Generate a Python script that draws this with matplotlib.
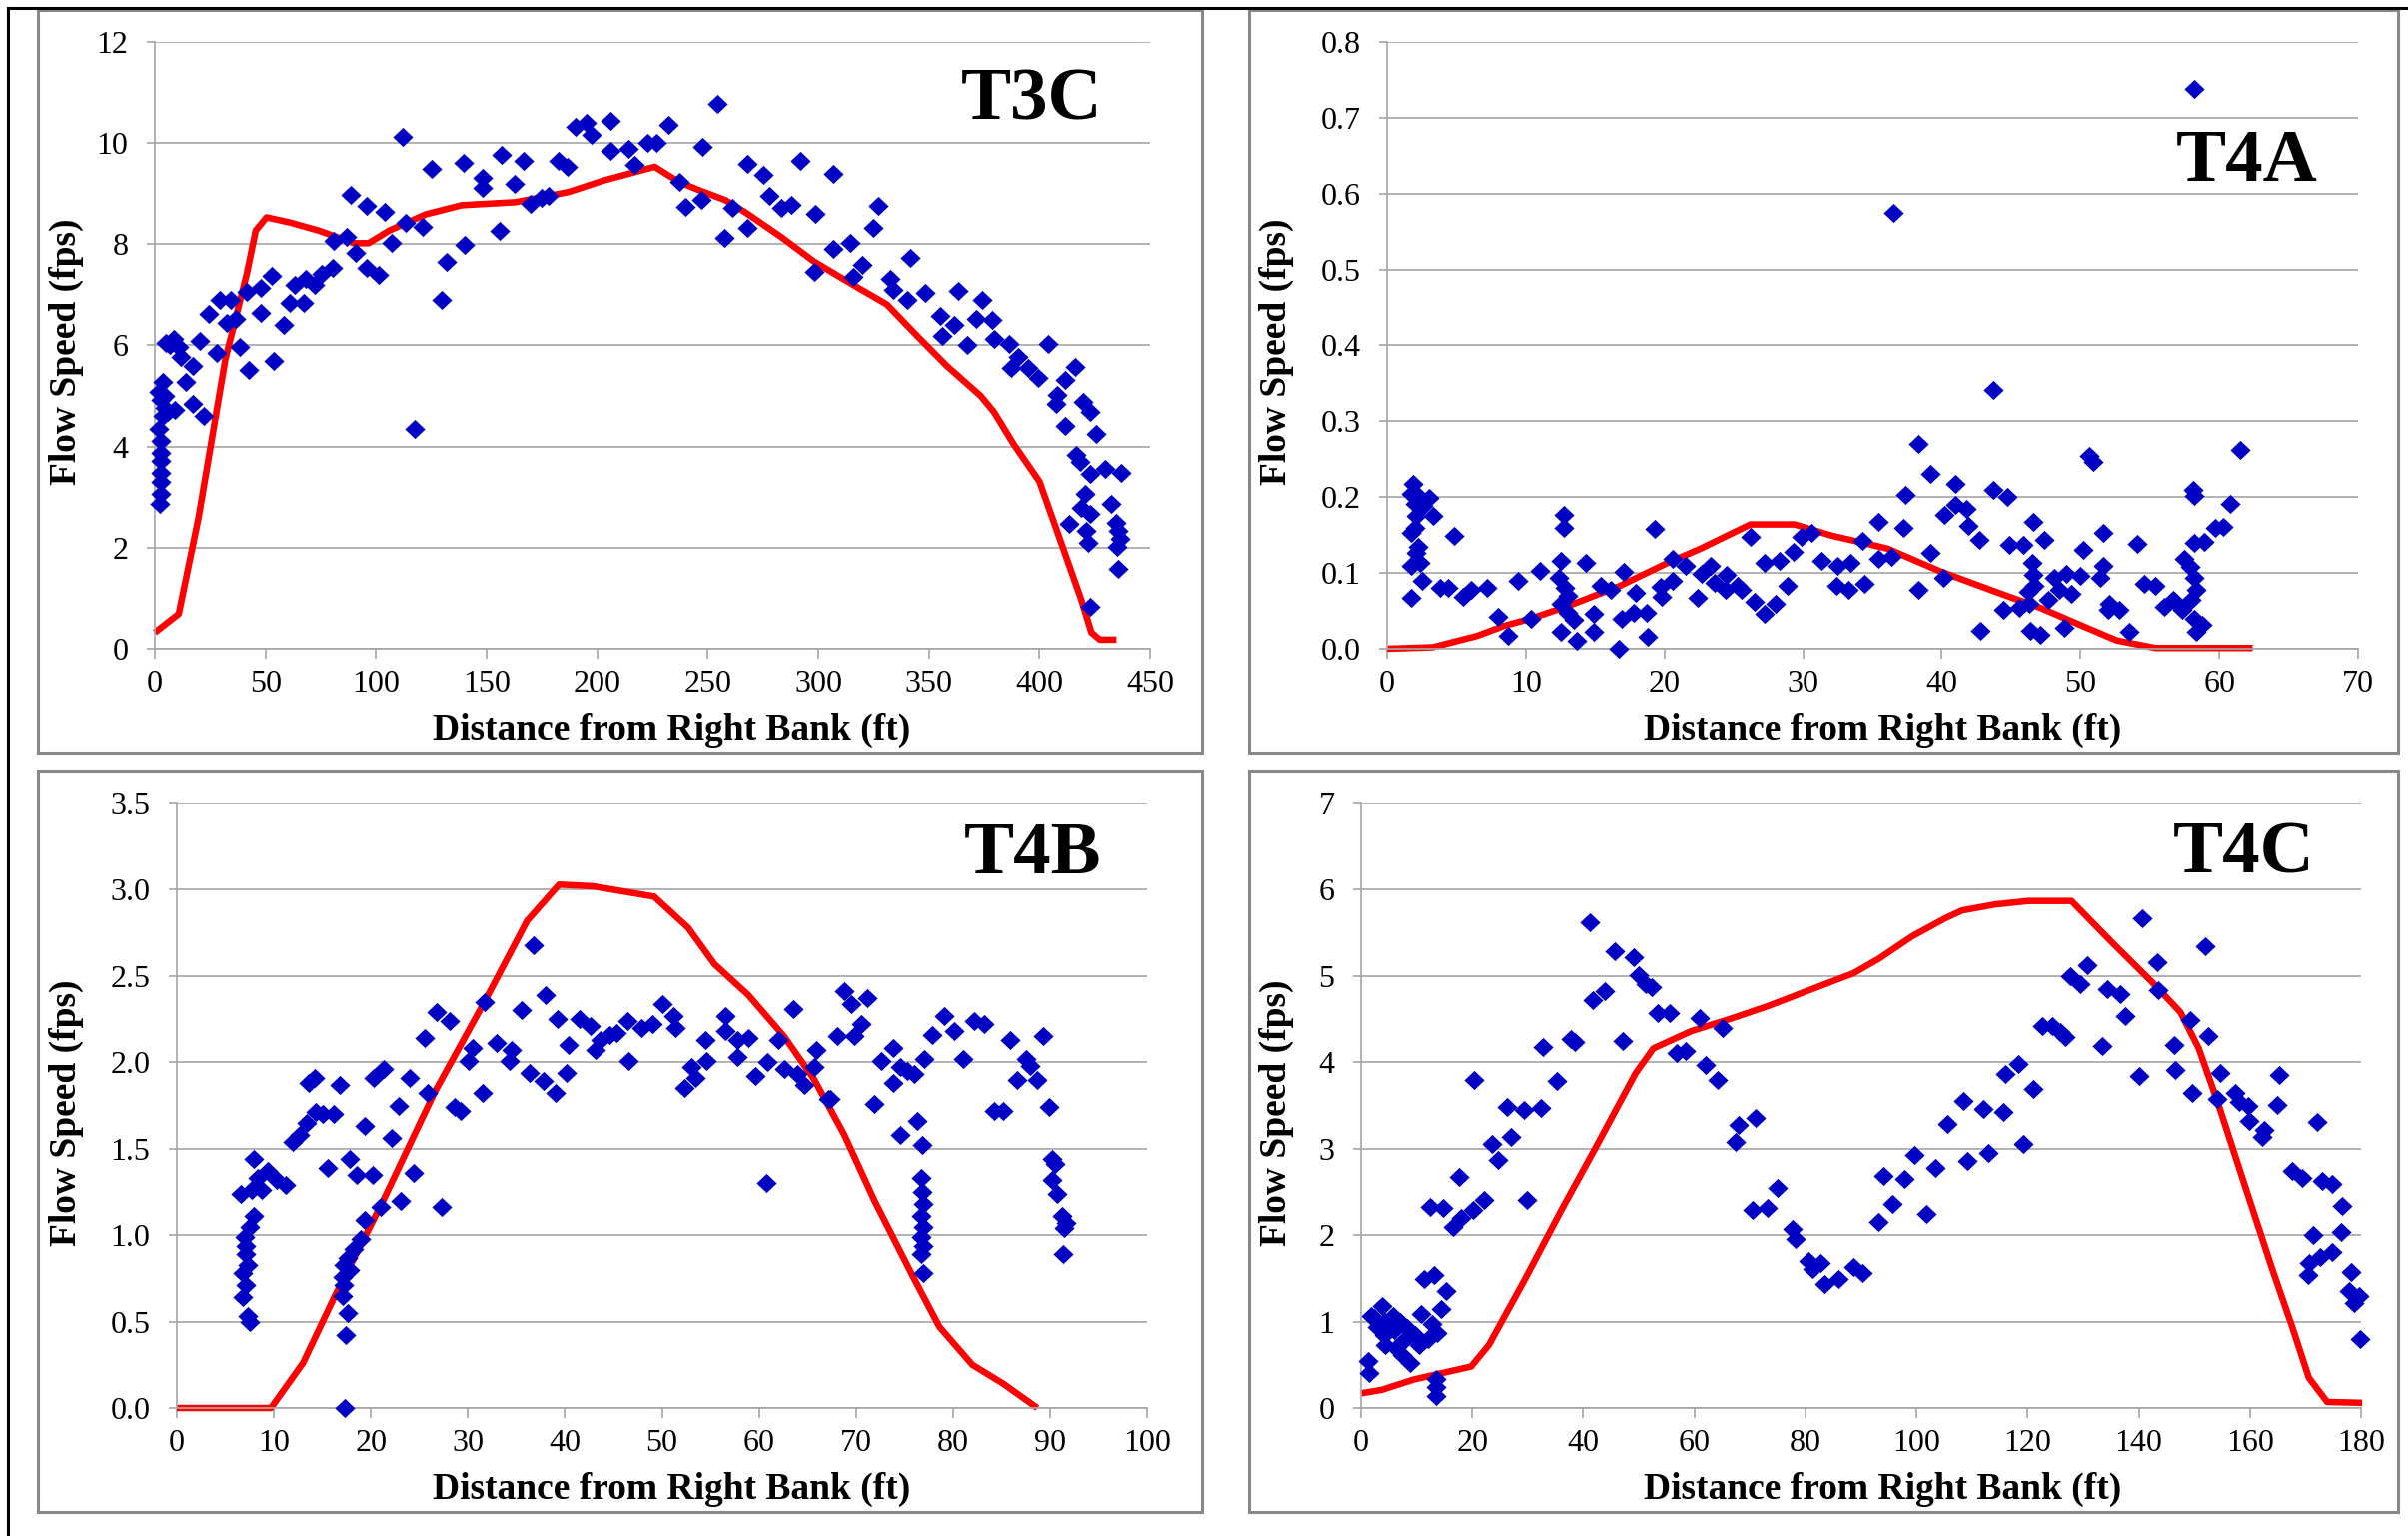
import numpy as np
import matplotlib
matplotlib.use('Agg')
import matplotlib.pyplot as plt
from matplotlib.patches import Rectangle
from matplotlib.lines import Line2D

# measured points (distance ft, speed fps) and the red model line of each transect
t3c_points = [
    (112, 10.12), (117.3, 4.35), (88.5, 8.97), (96, 8.75), (104, 8.63), (113.6, 8.43), (120.9, 8.35),
    (107, 8.02), (81, 8.06), (86.6, 8.15), (91, 7.82), (96, 7.54), (101, 7.4), (80.4, 7.54), (75.6, 7.42),
    (72.3, 7.2), (68.3, 7.32), (63.4, 7.19), (61, 6.85), (67.5, 6.85), (53, 7.38), (48, 7.14), (41.6, 7.06),
    (48, 6.65), (58.3, 6.41), (53.7, 5.7), (42.6, 5.52), (38.3, 5.98), (36.7, 6.53), (32.7, 6.44),
    (29.4, 6.9), (34.3, 6.9), (24.6, 6.63), (20.5, 6.09), (27.8, 5.85), (17, 5.6), (14, 5.28), (5, 6.05),
    (8.4, 6.13), (10.8, 5.97), (11.6, 5.77), (7, 6.0), (3.5, 5.28), (2, 5.08), (2.7, 4.92), (4.4, 4.76),
    (6, 4.68), (9.2, 4.72), (17.3, 4.84), (22.2, 4.6), (2, 4.35), (2.7, 4.11), (2.7, 3.87), (2.7, 3.71),
    (2.7, 3.47), (2.7, 3.31), (2.7, 3.06), (2.4, 2.86), (4.4, 5.0), (3.5, 4.6), (125, 9.48), (139.5, 9.6),
    (148.4, 9.31), (148, 9.11), (157, 9.76), (166.5, 9.64), (162.6, 9.19), (155.7, 8.27), (140, 7.98),
    (131.9, 7.65), (129.8, 6.9), (170, 8.79), (174.8, 8.91), (178, 8.95), (182.4, 9.64), (186.4, 9.52),
    (190, 10.32), (195, 10.4), (197.5, 10.16), (205.8, 10.44), (205.8, 9.85), (214, 9.88), (217, 9.56),
    (222.8, 10.0), (226.9, 10.0), (232.2, 10.36), (237.4, 9.23), (240, 8.73),
    (254.5, 10.78), (247.4, 9.92), (247, 8.87), (268, 9.58), (275, 9.37), (291.7, 9.64), (307, 9.4),
    (277.7, 8.95), (283.3, 8.71), (287.9, 8.77), (261, 8.71), (257.6, 8.13), (267.9, 8.32), (298.5, 8.6),
    (327.3, 8.75), (324.7, 8.32), (306.8, 7.9), (314.4, 8.02), (320, 7.6), (315.9, 7.35), (298, 7.46),
    (341.7, 7.72), (332.6, 7.32), (334, 7.1), (340, 6.9), (348.5, 7.03), (363.3, 7.07), (373.9, 6.9),
    (355.3, 6.59), (361.4, 6.41), (371.2, 6.53), (378.8, 6.51), (355.8, 6.19), (367.4, 6.0), (379.5, 6.13),
    (386.4, 6.02), (403.8, 6.02), (390.2, 5.77), (387.1, 5.56), (394.7, 5.56), (399.2, 5.36), (416.2, 5.58),
    (411.8, 5.32), (408, 5.02), (407.6, 4.84), (419.7, 4.88), (422.7, 4.69), (411.4, 4.4), (425.5, 4.25),
    (416.7, 3.83), (418.2, 3.69), (413.6, 2.48), (422.7, 3.45), (420.5, 3.06), (419, 2.78), (422.7, 2.66),
    (421.2, 2.34), (422, 2.1), (429.5, 3.55), (436.8, 3.47), (432.6, 2.86), (434.5, 2.5), (435.5, 2.34),
    (436.5, 2.18), (435, 2.02), (435.6, 1.59), (423, 0.83),
]
t3c_line_x = [0, 10.8, 19.7, 31.9, 41.6, 45.6, 50.5, 61, 74, 90, 96.6, 106, 122.5, 138.7, 163, 187, 203,
              226, 237, 246, 258, 267, 283, 298, 316, 331, 346, 358, 373.5, 379.5, 388.6, 400, 409.8,
              418.9, 423.5, 427.3, 434.8]
t3c_line_y = [0.32, 0.69, 2.58, 5.73, 7.42, 8.27, 8.53, 8.43, 8.27, 8.02, 8.02, 8.27, 8.59, 8.77, 8.83,
              9.03, 9.26, 9.53, 9.23, 9.07, 8.87, 8.63, 8.15, 7.66, 7.19, 6.81, 6.13, 5.6, 5.0, 4.68,
              4.03, 3.31, 2.1, 0.97, 0.32, 0.18, 0.18]

t4a_points = [
    (1.87, 0.218), (1.75, 0.204), (2.2, 0.202), (3.06, 0.199), (2.0, 0.191), (2.6, 0.188), (3.3, 0.175),
    (2.1, 0.175), (2.0, 0.159), (1.75, 0.153), (2.2, 0.134), (2.1, 0.126), (1.75, 0.110), (2.35, 0.113),
    (4.8, 0.149), (2.5, 0.090), (1.75, 0.067), (3.8, 0.080), (4.4, 0.080), (5.45, 0.069), (6.05, 0.078),
    (7.2, 0.081), (8.0, 0.042), (8.7, 0.017), (9.45, 0.089), (10.4, 0.039), (11.0, 0.103), (12.75, 0.176),
    (12.75, 0.159), (12.5, 0.116), (12.4, 0.094), (12.8, 0.081), (13.0, 0.070), (12.5, 0.059),
    (13.0, 0.048), (13.5, 0.038), (12.5, 0.023), (13.7, 0.011), (14.3, 0.114), (14.9, 0.046),
    (14.9, 0.022), (15.4, 0.083), (16.1, 0.078), (16.7, 0.0), (17.1, 0.101), (16.9, 0.040), (17.8, 0.048),
    (18.7, 0.048), (17.9, 0.074), (18.8, 0.016), (19.3, 0.158), (19.7, 0.082), (19.8, 0.069),
    (20.6, 0.089), (20.6, 0.119), (21.5, 0.110), (22.4, 0.067), (22.7, 0.099), (23.3, 0.110),
    (23.6, 0.087), (24.5, 0.097), (24.4, 0.078), (25.3, 0.083), (25.6, 0.078), (26.2, 0.147),
    (26.5, 0.062), (27.2, 0.046), (28.0, 0.059), (27.2, 0.113), (28.3, 0.116), (28.9, 0.083),
    (29.3, 0.128), (29.9, 0.148), (30.6, 0.153), (31.3, 0.116), (32.5, 0.110), (33.4, 0.113),
    (32.4, 0.083), (33.3, 0.078), (34.4, 0.086), (34.3, 0.142), (35.4, 0.167), (35.4, 0.118),
    (58.2, 0.738), (36.5, 0.574), (43.7, 0.342), (38.3, 0.27), (61.5, 0.262), (50.6, 0.254), (50.9, 0.246),
    (39.2, 0.23), (37.4, 0.203), (41.0, 0.217), (43.7, 0.209), (44.7, 0.2), (58.1, 0.21), (58.2, 0.202),
    (41, 0.19), (41.8, 0.185), (40.2, 0.177), (60.8, 0.191), (37.2, 0.159), (41.9, 0.162), (42.7, 0.144),
    (59.7, 0.159), (60.3, 0.161), (46.6, 0.167), (47.4, 0.144), (44.9, 0.137), (45.9, 0.137),
    (51.6, 0.153), (54.1, 0.139), (58.2, 0.14), (58.9, 0.141), (50.2, 0.130), (39.2, 0.126),
    (36.4, 0.121), (46.5, 0.113), (46.6, 0.097), (46.7, 0.083), (46.2, 0.075), (46.3, 0.059),
    (51.6, 0.11), (57.5, 0.118), (57.9, 0.108), (58.2, 0.094), (58.3, 0.078), (58.0, 0.065),
    (40.1, 0.094), (38.3, 0.078), (48.1, 0.094), (49, 0.099), (50, 0.096), (51.4, 0.094), (49.3, 0.073),
    (48.5, 0.078), (54.6, 0.086), (55.4, 0.083), (47.7, 0.065), (44.4, 0.051), (45.6, 0.054),
    (52.1, 0.059), (52.8, 0.051), (52, 0.051), (56, 0.056), (56.7, 0.065), (57.3, 0.051), (58.2, 0.040),
    (42.8, 0.024), (46.4, 0.024), (47.1, 0.019), (48.8, 0.028), (53.5, 0.022), (58.3, 0.022),
    (58.8, 0.032),
]
t4a_line_x = [0, 3.3, 6.5, 8.4, 10.4, 13, 16.8, 20.2, 22.6, 26.2, 29.4, 32.1, 34.5, 36.1, 39.9, 44.2,
              47.1, 49.9, 52.6, 55.4, 62.4]
t4a_line_y = [0, 0.002, 0.017, 0.03, 0.04, 0.056, 0.083, 0.113, 0.132, 0.164, 0.164, 0.149, 0.139,
              0.132, 0.102, 0.073, 0.054, 0.032, 0.011, 0.001, 0.001]

t4b_points = [
    (7.3, 0.53), (7.5, 0.50), (6.8, 0.64), (7.1, 0.71), (6.8, 0.78), (7.3, 0.83), (7.1, 0.89), (7.1, 0.94),
    (7.0, 0.99), (7.5, 1.05), (7.9, 1.11), (6.6, 1.24), (7.7, 1.26), (8.8, 1.26), (9.4, 1.37), (10.3, 1.32),
    (11.2, 1.29), (7.9, 1.44), (8.3, 1.33), (11.9, 1.54), (12.7, 1.58), (13.4, 1.65), (14.3, 1.71),
    (15.0, 1.70), (16.2, 1.70), (13.6, 1.88), (14.2, 1.91), (16.8, 1.87), (15.5, 1.39), (17.8, 1.44),
    (18.5, 1.35), (20.2, 1.35), (19.4, 1.63), (20.3, 1.91), (21.3, 1.96), (22.1, 1.56), (22.9, 1.75),
    (24.0, 1.91), (25.5, 2.14), (26.8, 2.29), (28.1, 2.24), (25.9, 1.82), (24.4, 1.36), (23.1, 1.20),
    (21.0, 1.16), (19.4, 1.09), (18.9, 0.98), (18.2, 0.92), (17.6, 0.87), (17.2, 0.83), (17.8, 0.80),
    (17.1, 0.76), (17.2, 0.71), (17.1, 0.65), (17.6, 0.55), (17.4, 0.42), (17.35, 0.0), (27.3, 1.16),
    (29.2, 1.72), (28.6, 1.74), (31.5, 1.82), (30.1, 2.01), (30.5, 2.08), (31.7, 2.35), (33, 2.11),
    (34.5, 2.07), (34.3, 2.01), (35.5, 2.30), (36.8, 2.68), (36.4, 1.94), (37.8, 1.89), (39.0, 1.82),
    (38.0, 2.39), (39.2, 2.25), (40.4, 2.10), (40.2, 1.94), (41.5, 2.25), (42.6, 2.21), (43.1, 2.07),
    (43.7, 2.13), (44.6, 2.16), (45.3, 2.17), (46.6, 2.01), (46.4, 2.24), (47.9, 2.20), (49.0, 2.22),
    (50.0, 2.34), (51.2, 2.27), (51.4, 2.20), (52.3, 1.85), (53, 1.97), (53.4, 1.91), (54.5, 2.13),
    (54.6, 2.01), (56.5, 2.27), (56.5, 2.18), (57.8, 2.13), (58.9, 2.14), (57.8, 2.03), (59.6, 1.92),
    (60.9, 2.0), (62.6, 1.96), (62, 2.13), (63.5, 2.31), (64, 1.93), (64.7, 1.87), (65.9, 2.07),
    (65.7, 1.97), (60.8, 1.30), (67.1, 1.79), (67.4, 1.79), (68.1, 2.15), (69.8, 2.15), (70.5, 2.22),
    (68.8, 2.41), (69.5, 2.34), (71.2, 2.37), (71.9, 1.76), (72.6, 2.01), (73.8, 2.08), (74.6, 1.97),
    (75.3, 1.95), (76, 1.93), (73.8, 1.88), (77, 2.02), (77.9, 2.16), (79.1, 2.27), (80.1, 2.18),
    (81.1, 2.02), (82.2, 2.24), (83.2, 2.22), (74.6, 1.58), (76.3, 1.66), (76.8, 1.52), (76.7, 1.33),
    (76.8, 1.25), (76.9, 1.18), (76.7, 1.11), (76.9, 1.05), (76.7, 0.99), (76.9, 0.94), (76.7, 0.89),
    (76.9, 0.78), (84.2, 1.72), (85.2, 1.72), (85.9, 2.13), (87.5, 2.02), (88, 1.98), (86.6, 1.90),
    (88.7, 1.90), (89.3, 2.15), (89.9, 1.74), (90.2, 1.44), (90.5, 1.41), (90.2, 1.32), (90.7, 1.24),
    (91.2, 1.11), (91.7, 1.07), (91.5, 1.04), (91.4, 0.89),
]
t4b_line_x = [0, 9.7, 13, 16.3, 21.1, 26.6, 31.7, 36.1, 39.4, 42.9, 49.2, 52.7, 55.4, 58.9, 62.6, 65.7,
              68.8, 71.9, 75.7, 78.6, 82, 85.2, 88.7]
t4b_line_y = [0, 0, 0.26, 0.65, 1.18, 1.83, 2.35, 2.82, 3.03, 3.02, 2.96, 2.78, 2.57, 2.39, 2.15, 1.90,
              1.58, 1.20, 0.78, 0.47, 0.25, 0.14, 0.0]

t4c_points = [
    (1.2, 0.54), (1.5, 0.40), (1.8, 1.06), (3.7, 1.18), (4.4, 0.99), (5.7, 1.06), (7, 0.99), (4.1, 0.85),
    (6, 0.90), (8.2, 0.92), (4.4, 0.73), (7.3, 0.61), (8.9, 0.52), (10.5, 0.73), (12.1, 0.80),
    (10.8, 1.09), (12.7, 0.97), (13.7, 0.87), (9.8, 0.85), (7.6, 0.78), (6.3, 0.69), (2.8, 0.94),
    (2.4, 1.04), (11.4, 1.49), (13.1, 1.54), (15.2, 1.35), (14.3, 1.14), (13.4, 0.33), (13.5, 0.24),
    (13.5, 0.14), (12.4, 2.32), (14.7, 2.31), (16.6, 2.10), (17.9, 2.20), (20.1, 2.29), (22.1, 2.41),
    (17.7, 2.67), (20.4, 3.80), (23.5, 3.06), (24.6, 2.87), (27, 3.14), (26.2, 3.48), (29.3, 3.45),
    (32.3, 3.47), (29.9, 2.41), (35.2, 3.78), (32.7, 4.18), (37.8, 4.27), (38.5, 4.23), (41.2, 5.62),
    (41.7, 4.72), (43.9, 4.83), (45.7, 5.29), (49.1, 5.22), (50, 5.01), (51.3, 4.91), (52.3, 4.87),
    (47.1, 4.25), (53.4, 4.57), (55.5, 4.57), (56.8, 4.11), (58.4, 4.13), (61, 4.51), (62.1, 3.97),
    (64.2, 3.79), (65.1, 4.40), (67.9, 3.28), (67.4, 3.08), (71.1, 3.36), (75, 2.54), (70.5, 2.29),
    (73.1, 2.31), (77.6, 2.07), (78.3, 1.96), (80.6, 1.70), (82.8, 1.68), (81.2, 1.61), (83.5, 1.44),
    (86, 1.49), (88.6, 1.63), (90.2, 1.56), (94.1, 2.68), (93.1, 2.15), (95.7, 2.36),
    (97.9, 2.65), (99.7, 2.93), (101.8, 2.24), (103.4, 2.78), (105.5, 3.29), (108.4, 3.55), (109.1, 2.86),
    (112.1, 3.46), (112.9, 2.95), (115.7, 3.42), (116, 3.87), (118.4, 3.98), (119.3, 3.05), (121.1, 3.69),
    (122.6, 4.42), (124.4, 4.42), (125.9, 4.35), (126.8, 4.29), (127.7, 5.0), (130.7, 5.13), (129.5, 4.91),
    (133.4, 4.19), (134.3, 4.85), (136.7, 4.79), (137.6, 4.54), (140, 3.84), (140.6, 5.67), (143.3, 5.16),
    (143.5, 4.84), (152, 5.34), (149.2, 4.49), (152.5, 4.30), (146.3, 4.20), (146.5, 3.91), (149.6, 3.65),
    (154.7, 3.88), (154.1, 3.57), (157.4, 3.64), (158, 3.54), (159.7, 3.50), (159.8, 3.32), (162.5, 3.22),
    (162.2, 3.13), (165.2, 3.85), (164.9, 3.51), (172.1, 3.31), (167.6, 2.74), (169.4, 2.66), (173, 2.63),
    (174.8, 2.59), (176.6, 2.34), (176.4, 2.04), (171.3, 2.0), (170.6, 1.68), (172.7, 1.75), (174.8, 1.80),
    (170.4, 1.54), (178.2, 1.57), (177.8, 1.35), (179.6, 1.30), (178.7, 1.22), (179.9, 0.80),
]
t4c_line_x = [0, 3.7, 9.5, 19.8, 23, 29.5, 35.9, 42.3, 49.4, 52.6, 59.4, 66.8, 73.2, 85.7, 88.6, 93.2,
              99.2, 105.2, 108.2, 114.2, 120.2, 127.9, 135.2, 142.4, 147.5, 150.8, 154.4, 159.2, 164,
              167.6, 170.6, 173.9, 180.2]
t4c_line_y = [0.17, 0.21, 0.33, 0.48, 0.73, 1.49, 2.27, 3.02, 3.87, 4.16, 4.36, 4.51, 4.65, 4.96, 5.03,
              5.2, 5.46, 5.67, 5.76, 5.83, 5.87, 5.87, 5.39, 4.93, 4.58, 4.16, 3.50, 2.55, 1.61, 0.94,
              0.35, 0.07, 0.06]

W, H = 2410, 1537
plt.rcParams['font.family'] = ['Liberation Serif', 'DejaVu Serif']
fig = plt.figure(figsize=(W / 100, H / 100), dpi=100)

GRID = '#a6a6a6'
BLUE = '#0000c4'
diamond = [(-1.05, 0), (0, 1), (1.05, 0), (0, -1)]


def add_box(l, t, r, b):
    fig.add_artist(Rectangle((l / W, 1 - b / H), (r - l) / W, (b - t) / H, transform=fig.transFigure,
                             fill=False, ec='#888888', lw=2.2))


def draw_panel(rect, points, lx, ly, xmax, xstep, ymax, ystep, yfmt, name, name_xy, label_x, label_y):
    l, t, r, b = rect
    ax = fig.add_axes([l / W, 1 - b / H, (r - l) / W, (b - t) / H])
    ax.set_xlim(0, xmax)
    ax.set_ylim(0, ymax)
    ax.set_xticks(np.arange(0, xmax + xstep / 2, xstep))
    yt = np.arange(0, ymax + ystep / 2, ystep)
    ax.set_yticks(yt)
    ax.set_yticklabels([yfmt % v for v in yt])
    ax.yaxis.grid(True, color=GRID, lw=1.2)
    ax.set_axisbelow(True)
    for s in ['top', 'right']:
        ax.spines[s].set_visible(False)
    for s in ['left', 'bottom']:
        ax.spines[s].set_color(GRID)
        ax.spines[s].set_linewidth(1.2)
    ax.tick_params(axis='y', direction='out', length=6, width=1.2, color=GRID, labelsize=23, pad=13)
    ax.tick_params(axis='x', direction='out', length=7, width=1.2, color=GRID, labelsize=23, pad=8)

    ax.plot(lx, ly, color='#ff0000', lw=4.7, solid_joinstyle='round', solid_capstyle='butt',
            zorder=2, clip_on=False)
    pts = np.array(points)
    ax.plot(pts[:, 0], pts[:, 1], ls='none', marker=diamond, ms=14.5, color=BLUE, mec=BLUE, mew=0,
            zorder=3, clip_on=False)

    fig.text(name_xy[0] / W, 1 - name_xy[1] / H, name, ha='center', va='baseline', fontsize=54,
             fontweight='bold')
    fig.text(label_x[0] / W, 1 - label_x[1] / H, 'Distance from Right Bank (ft)', ha='center',
             va='baseline', fontsize=27, fontweight='bold')
    fig.text(label_y[0] / W, 1 - label_y[1] / H, 'Flow Speed (fps)', ha='center', va='center',
             rotation=90, fontsize=27, fontweight='bold')
    return ax


# outer frame (left and top only) and panel boxes
fig.add_artist(Line2D([8 / W, 8 / W], [0, 1 - 8 / H], transform=fig.transFigure, color='black', lw=2.2))
fig.add_artist(Line2D([8 / W, 1], [1 - 8 / H, 1 - 8 / H], transform=fig.transFigure, color='black', lw=2.2))
add_box(38, 10, 1203, 753)
add_box(1250, 10, 2400, 753)
add_box(38, 772, 1203, 1513)
add_box(1250, 772, 2400, 1513)

draw_panel((155, 42, 1151, 649), t3c_points, t3c_line_x, t3c_line_y, 450, 50, 12, 2, '%d',
           'T3C', (1033, 120), (672, 740), (66, 352))
draw_panel((1388, 42, 2360, 649), t4a_points, t4a_line_x, t4a_line_y, 70, 10, 0.8, 0.1, '%.1f',
           'T4A', (2249, 181), (1884, 740), (1277, 352))
draw_panel((177, 804, 1148, 1409), t4b_points, t4b_line_x, t4b_line_y, 100, 10, 3.5, 0.5, '%.1f',
           'T4B', (1034, 874), (672, 1500), (66, 1114))
draw_panel((1362, 804, 2363, 1409), t4c_points, t4c_line_x, t4c_line_y, 180, 20, 7, 1, '%d',
           'T4C', (2246, 874), (1884, 1500), (1277, 1114))

fig.savefig('out.png', dpi=100)
